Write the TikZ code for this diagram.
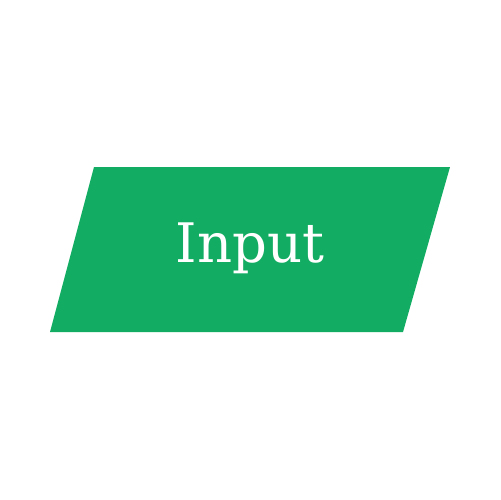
\documentclass[tikz,border=0pt]{standalone}
\usepackage{tikz}
\usepackage{fontspec}
\setmainfont{DejaVu Serif}
\definecolor{inputgreen}{RGB}{18,173,99}

\begin{document}
\begin{tikzpicture}[x=0.02cm, y=-0.02cm, line join=round]

% Fix the canvas to the 500x500 frame
\useasboundingbox (0,0) rectangle (500,500);

% Corners of the parallelogram
\coordinate (A) at (94,167);
\coordinate (B) at (450,167);
\coordinate (C) at (403,332);
\coordinate (D) at (50,332);

% Draw the input shape
\fill[inputgreen] (A) -- (B) -- (C) -- (D) -- cycle;

% Label in the middle
\node[text=white, font=\fontsize{31}{34}\selectfont] (label) at (250,248) {Input};

\end{tikzpicture}
\end{document}
